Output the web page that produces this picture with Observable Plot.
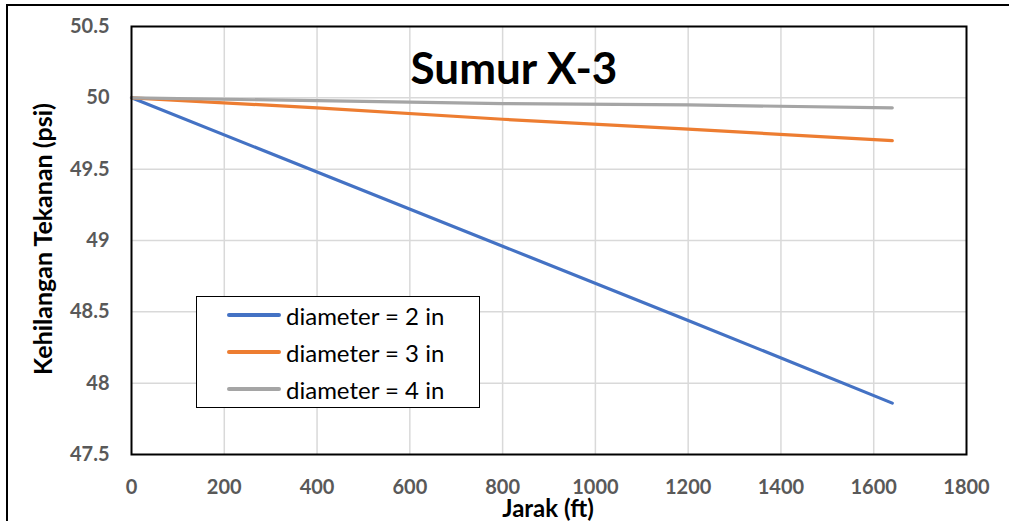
<!DOCTYPE html>
<html>
<head>
<meta charset="utf-8">
<script src="https://cdn.jsdelivr.net/npm/d3@7"></script>
<script src="https://cdn.jsdelivr.net/npm/@observablehq/plot@0.6"></script>
<style>
  html, body { margin: 0; padding: 0; background: #fff; }
  #wrap { position: relative; width: 1009px; height: 521px; overflow: hidden; font-family: Lato, "Open Sans", sans-serif; }
  #outer { position: absolute; left: 6px; top: 4px; width: 1100px; height: 600px; border-left: 2px solid #000; border-top: 2px solid #000; box-sizing: border-box; }
  #chart { position: absolute; left: 0; top: 0; }
  .title { position: absolute; left: 514px; top: 67px; transform: translate(-50%, -50%); font-weight: bold; font-size: 44px; color: #000; white-space: nowrap; }
  .xlab { position: absolute; left: 548px; top: 508px; transform: translate(-50%, -50%); font-weight: bold; font-size: 24px; line-height: 24px; color: #000; white-space: nowrap; }
  .ylab { position: absolute; left: 42px; top: 239px; transform: translate(-50%, -50%) rotate(-90deg); font-weight: bold; font-size: 25px; color: #000; white-space: nowrap; }
  #legend { position: absolute; left: 196px; top: 296px; width: 284px; height: 112px; border: 1.5px solid #000; background: #fff; box-sizing: border-box; }
  .lrow { position: absolute; left: 30px; height: 30px; display: flex; align-items: center; font-size: 24px; color: #000; white-space: nowrap; }
  .sw { width: 54px; height: 4px; border-radius: 2px; margin-right: 5px; }
</style>
</head>
<body>
<div id="wrap">
  <div id="outer"></div>
  <div id="chart"></div>
  <div class="title">Sumur X-3</div>
  <div class="xlab">Jarak (ft)</div>
  <div class="ylab">Kehilangan Tekanan (psi)</div>
  <div id="legend"></div>
</div>
<script>
// Data
const jarak = [0, 400, 800, 1200, 1640];
const dia2 = [50, 49.48, 48.96, 48.44, 47.86];
const dia3 = [50, 49.93, 49.85, 49.78, 49.70];
const dia4 = [50, 49.98, 49.96, 49.95, 49.93];
const seriesNames = ["diameter = 2 in", "diameter = 3 in", "diameter = 4 in"];
const seriesColors = ["#4472C4", "#ED7D31", "#A5A5A5"];
const xTicks = [0, 200, 400, 600, 800, 1000, 1200, 1400, 1600, 1800];
const yTicks = [47.5, 48, 48.5, 49, 49.5, 50, 50.5];

const seriesValues = [dia2, dia3, dia4];
const rows = [];
seriesValues.forEach((vals, i) => {
  vals.forEach((v, j) => rows.push({series: seriesNames[i], x: jarak[j], y: v}));
});

const chart = Plot.plot({
  width: 1009,
  height: 521,
  marginLeft: 131,
  marginRight: 43,
  marginTop: 26,
  marginBottom: 67,
  style: {background: "transparent", fontFamily: "Lato, 'Open Sans', sans-serif"},
  x: {domain: [0, 1800]},
  y: {domain: [47.5, 50.5]},
  color: {domain: seriesNames, range: seriesColors},
  marks: [
    Plot.ruleX(xTicks.slice(1, -1), {stroke: "#d9d9d9", strokeWidth: 1.5}),
    Plot.ruleY(yTicks.slice(1, -1), {stroke: "#d9d9d9", strokeWidth: 1.5}),
    Plot.axisX({ticks: xTicks, tickSize: 0, tickPadding: 25, label: null, fontSize: 20, fontWeight: "bold", fill: "#595959", tickFormat: d => String(d)}),
    Plot.axisY({ticks: yTicks, tickSize: 0, tickPadding: 22, label: null, fontSize: 20, fontWeight: "bold", fill: "#595959", tickFormat: d => String(d)}),
    Plot.line(rows, {x: "x", y: "y", z: "series", stroke: "series", strokeWidth: 3.2, strokeLinecap: "round"}),
    Plot.frame({stroke: "#000", strokeWidth: 2})
  ]
});
document.getElementById("chart").appendChild(chart);

const legend = document.getElementById("legend");
seriesNames.forEach((name, i) => {
  const row = document.createElement("div");
  row.className = "lrow";
  row.style.top = (3 + i * 37) + "px";
  const sw = document.createElement("div");
  sw.className = "sw";
  sw.style.background = seriesColors[i];
  const t = document.createElement("span");
  t.textContent = name;
  row.appendChild(sw);
  row.appendChild(t);
  legend.appendChild(row);
});
</script>
</body>
</html>
